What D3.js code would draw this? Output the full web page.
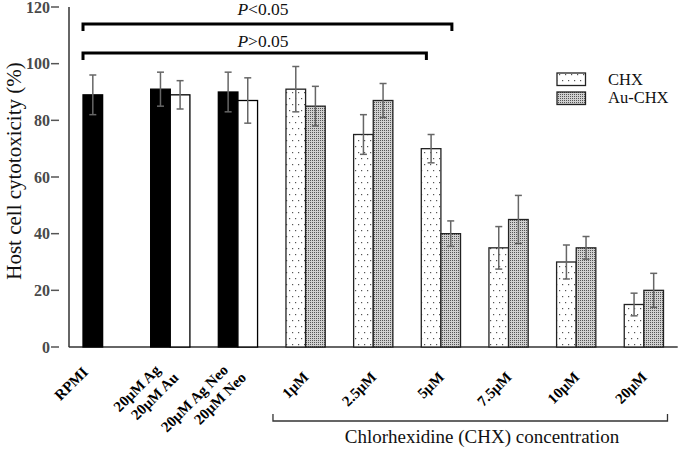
<!DOCTYPE html>
<html><head><meta charset="utf-8">
<script src="https://cdn.jsdelivr.net/npm/d3@7"></script>
<style>body{margin:0;background:#fff}svg{display:block}</style>
</head><body><svg id="c" width="680" height="449"></svg>
<script>
const categories = ["RPMI","20μM Ag|20μM Au","20μM Ag Neo|20μM Neo","1μM","2.5μM","5μM","7.5μM","10μM","20μM"];
const groupKind = ["control","control","control","chx","chx","chx","chx","chx","chx"];
const firstValues  = [89, 91, 90, 91, 75, 70, 35, 30, 15];
const firstErrors  = [7, 6, 7, 8, 7, 5, 7.5, 6, 4];
const secondValues = [null, 89, 87, 85, 87, 40, 45, 35, 20];
const secondErrors = [null, 5, 8, 7, 6, 4.5, 8.5, 4, 6];
const yTicks = [0, 20, 40, 60, 80, 100, 120];
const legendLabels = ["CHX", "Au-CHX"];
const sigLabels = [{p:"<0.05", toCat:"5μM", frac:0.78}, {p:">0.05", toCat:"5μM", frac:0.13}];
const xTitle = "Chlorhexidine (CHX) concentration";
const yTitle = "Host cell cytotoxicity (%)";

const svg = d3.select("#c");
const F = "'Liberation Serif','Times New Roman',serif";
const defs = svg.append("defs");
const p1 = defs.append("pattern").attr("id","dots").attr("patternUnits","userSpaceOnUse").attr("width",6).attr("height",12);
p1.append("rect").attr("width",6).attr("height",12).attr("fill","#fff");
p1.append("rect").attr("x",1).attr("y",2).attr("width",1.2).attr("height",1.2).attr("fill","#555");
p1.append("rect").attr("x",4).attr("y",8).attr("width",1.2).attr("height",1.2).attr("fill","#555");
const p2 = defs.append("pattern").attr("id","dense").attr("patternUnits","userSpaceOnUse").attr("width",2).attr("height",2);
p2.append("rect").attr("width",2).attr("height",2).attr("fill","#d0d0d0");
p2.append("rect").attr("width",1).attr("height",1).attr("fill","#555");

const y = d3.scaleLinear().domain([0,120]).range([347,7]);
const x = d3.scaleBand().domain(categories).range([68.8,677.7]).paddingInner(0.42).paddingOuter(0.21);
const xi = d3.scaleBand().domain([0,1]).range([0,x.bandwidth()]);

// axes lines
svg.append("line").attr("x1",x.range()[0]).attr("x2",x.range()[1]).attr("y1",y(0)).attr("y2",y(0)).attr("stroke","#333").attr("stroke-width",1.5);
svg.append("line").attr("x1",69).attr("x2",69).attr("y1",y(120)).attr("y2",y(0)).attr("stroke","#333").attr("stroke-width",1.5);
// y ticks
const yt = svg.append("g");
yTicks.forEach(t=>{
  yt.append("line").attr("x1",51).attr("x2",59).attr("y1",y(t)).attr("y2",y(t)).attr("stroke","#555").attr("stroke-width",1.5);
  yt.append("text").attr("x",50).attr("y",y(t)).attr("dy","0.35em").attr("text-anchor","end")
    .attr("font-family",F).attr("font-weight","bold").attr("font-size",16).attr("fill","#4a4a4a").text(t);
});

// bars
const bars = [];
categories.forEach((c,i)=>{
  [[firstValues,firstErrors],[secondValues,secondErrors]].forEach((s,j)=>{
    const v = s[0][i]; if(v==null) return;
    let fill, stroke;
    if(groupKind[i]==="control"){ fill = j===0 ? "#000" : "#fff"; stroke = "#000"; }
    else { fill = j===0 ? "url(#dots)" : "url(#dense)"; stroke = "#222"; }
    bars.push({c, j, v, e:s[1][i], fill, stroke});
  });
});
const bg = svg.append("g");
bars.forEach(b=>{
  const bx = x(b.c)+xi(b.j), w = xi.bandwidth();
  bg.append("rect").attr("x",bx).attr("y",y(b.v)).attr("width",w).attr("height",y(0)-y(b.v))
    .attr("fill",b.fill).attr("stroke",b.stroke).attr("stroke-width",1.3);
  const cx = bx + w/2;
  const eg = bg.append("g").attr("stroke","#666").attr("stroke-width",1.5);
  eg.append("line").attr("x1",cx).attr("x2",cx).attr("y1",y(b.v+b.e)).attr("y2",y(b.v-b.e));
  eg.append("line").attr("x1",cx-3.5).attr("x2",cx+3.5).attr("y1",y(b.v+b.e)).attr("y2",y(b.v+b.e));
  eg.append("line").attr("x1",cx-3.5).attr("x2",cx+3.5).attr("y1",y(b.v-b.e)).attr("y2",y(b.v-b.e));
});

// category labels
const lg = svg.append("g").attr("font-family",F).attr("font-weight","bold").attr("font-size",15).attr("fill","#000");
categories.forEach((c,i)=>{
  const lines = c.split("|");
  const n = secondValues[i]==null ? 1 : 2;
  const center = x(c) + xi.bandwidth()*n/2;
  if(lines.length===1){
    const ax = center + (n===2 ? 4 : -4), ay = n===2 ? 378 : 373;
    lg.append("text").attr("transform",`translate(${ax},${ay}) rotate(-45)`).attr("text-anchor","end").text(lines[0]);
  } else {
    lg.append("text").attr("transform",`translate(${center-9},371) rotate(-45)`).attr("text-anchor","end").text(lines[0]);
    lg.append("text").attr("transform",`translate(${center+9},378.5) rotate(-45)`).attr("text-anchor","end").text(lines[1]);
  }
});

// bottom bracket
const bx0 = x("1μM")-13, bx1 = x("20μM")+x.bandwidth()+4;
svg.append("path").attr("d",`M${bx0},414V421H${bx1}V414`).attr("fill","none").attr("stroke","#333").attr("stroke-width",1.3);
svg.append("text").attr("x",482).attr("y",443).attr("text-anchor","middle").attr("font-family",F).attr("font-size",19).attr("fill","#111").text(xTitle);

// y title
svg.append("text").attr("transform","translate(21,171) rotate(-90)").attr("text-anchor","middle")
  .attr("font-family",F).attr("font-size",21).attr("fill","#111").text(yTitle);

// significance brackets
const sy = [24, 53], ty = [15, 47];
sigLabels.forEach((s,k)=>{
  const x0 = x("RPMI"), x1 = x(s.toCat) + x.bandwidth()*s.frac;
  svg.append("path").attr("d",`M${x0},${sy[k]+7}V${sy[k]}H${x1}V${sy[k]+7}`).attr("fill","none").attr("stroke","#000").attr("stroke-width",3);
  const t = svg.append("text").attr("x",263).attr("y",ty[k]).attr("text-anchor","middle").attr("font-family",F).attr("font-size",17.5).attr("fill","#111");
  t.append("tspan").attr("font-style","italic").text("P");
  t.append("tspan").text(s.p);
});

// legend
const lgd = svg.append("g");
legendLabels.forEach((l,k)=>{
  const yy = [73, 92][k];
  lgd.append("rect").attr("x",557).attr("y",yy).attr("width",28.5).attr("height",12.5)
    .attr("fill", k===0 ? "url(#dots)" : "url(#dense)").attr("stroke","#222").attr("stroke-width",1.3);
  lgd.append("text").attr("x",608).attr("y",[84.5,103][k]).attr("font-family",F).attr("font-size",16.5).attr("fill","#111").text(l);
});
</script></body></html>
